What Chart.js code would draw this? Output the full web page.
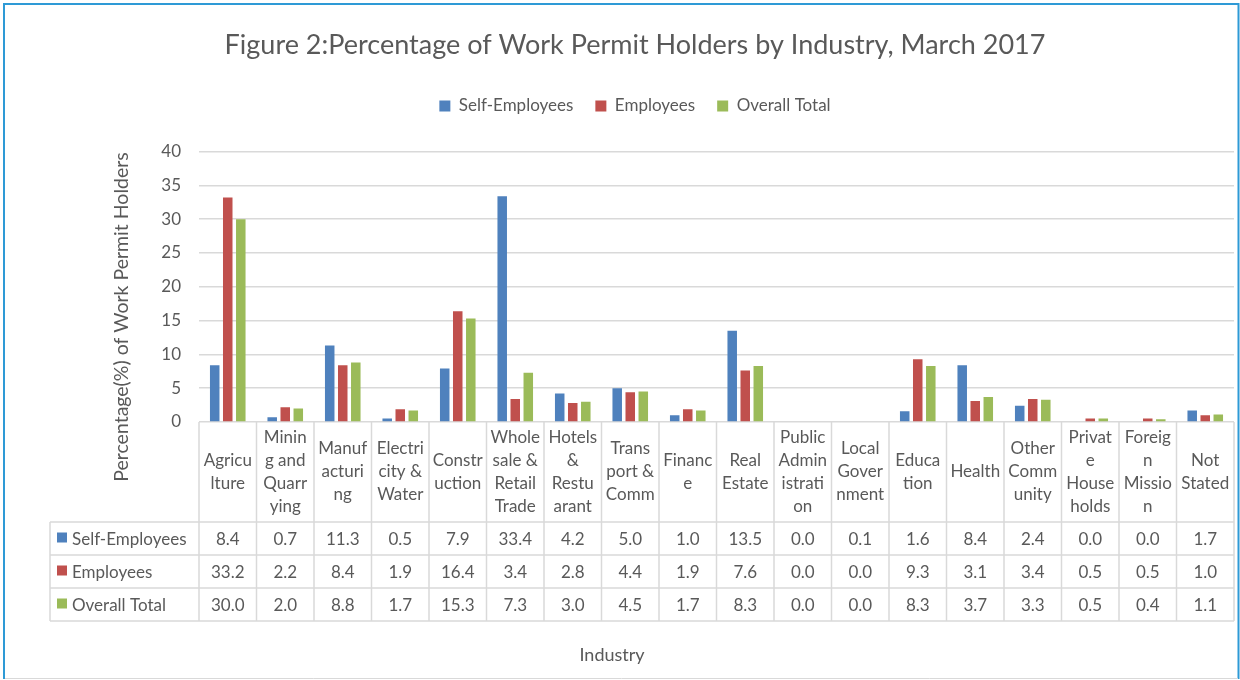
<!DOCTYPE html>
<html><head><meta charset="utf-8">
<script src="https://cdn.jsdelivr.net/npm/chart.js@4.4.1/dist/chart.umd.min.js"></script>
<style>html,body{margin:0;padding:0;background:#fff;} canvas{display:block;}</style>
</head><body>
<canvas id="c" width="1240" height="680"></canvas>
<script>
const chartTitle = "Figure 2:Percentage of Work Permit Holders by Industry, March 2017";
const yAxisTitle = "Percentage(%) of Work Permit Holders";
const xAxisTitle = "Industry";
const seriesNames = ["Self-Employees", "Employees", "Overall Total"];
const categories = [["Agricu","lture"],["Minin","g and","Quarr","ying"],["Manuf","acturi","ng"],["Electri","city &","Water"],["Constr","uction"],["Whole","sale &","Retail","Trade"],["Hotels","&","Restu","arant"],["Trans","port &","Comm"],["Financ","e"],["Real","Estate"],["Public","Admin","istrati","on"],["Local","Gover","nment"],["Educa","tion"],["Health"],["Other","Comm","unity"],["Privat","e","House","holds"],["Foreig","n","Missio","n"],["Not","Stated"]];
const selfEmployees = [8.4,0.7,11.3,0.5,7.9,33.4,4.2,5.0,1.0,13.5,0.0,0.1,1.6,8.4,2.4,0.0,0.0,1.7];
const employees = [33.2,2.2,8.4,1.9,16.4,3.4,2.8,4.4,1.9,7.6,0.0,0.0,9.3,3.1,3.4,0.5,0.5,1.0];
const overallTotal = [30.0,2.0,8.8,1.7,15.3,7.3,3.0,4.5,1.7,8.3,0.0,0.0,8.3,3.7,3.3,0.5,0.4,1.1];
const yMin = 0, yMax = 40, yStep = 5;

const colors = ["#4F81BD", "#C0504D", "#9BBB59"];
const FONT = "Lato, 'Open Sans', sans-serif";
const TEXT = "#595959";
const GRID = "#D9D9D9";

const seriesData = [selfEmployees, employees, overallTotal];

const tablePlugin = {
  id: 'tablePlugin',
  afterDraw(chart) {
    const ctx = chart.ctx, ca = chart.chartArea, x = chart.scales.x;
    const n = categories.length;
    const cw = x.getPixelForValue(1) - x.getPixelForValue(0);
    const headerTop = ca.bottom, headerBottom = ca.bottom + 100;
    const rowH = 33;
    const tableLeft = 50;
    const tableBottom = headerBottom + rowH * 3;
    ctx.save();
    ctx.strokeStyle = GRID;
    ctx.lineWidth = 1.5;
    ctx.beginPath();
    for (let r = 0; r <= 3; r++) {
      const yy = headerBottom + r * rowH;
      ctx.moveTo(tableLeft, yy); ctx.lineTo(ca.right, yy);
    }
    ctx.moveTo(tableLeft, headerBottom); ctx.lineTo(tableLeft, tableBottom);
    for (let i = 0; i <= n; i++) {
      const xx = x.getPixelForValue(0) - cw / 2 + i * cw;
      ctx.moveTo(xx, headerTop); ctx.lineTo(xx, tableBottom);
    }
    ctx.stroke();

    ctx.fillStyle = TEXT;
    ctx.font = "17px " + FONT;
    ctx.textAlign = "center";
    ctx.textBaseline = "middle";
    const lh = 23;
    const hc = (headerTop + headerBottom) / 2;
    categories.forEach((lines, i) => {
      const cx = x.getPixelForValue(i);
      const y0 = hc - (lines.length - 1) * lh / 2;
      lines.forEach((t, k) => ctx.fillText(t, cx, y0 + k * lh));
    });
    seriesData.forEach((arr, r) => {
      const cy = headerBottom + r * rowH + rowH / 2 + 1;
      arr.forEach((v, i) => {
        ctx.fillText(v.toFixed(1), x.getPixelForValue(i), cy);
      });
    });
    ctx.textAlign = "left";
    seriesNames.forEach((s, r) => {
      const cy = headerBottom + r * rowH + rowH / 2;
      ctx.fillStyle = colors[r];
      ctx.fillRect(57, cy - 6, 10, 10);
      ctx.fillStyle = TEXT;
      ctx.fillText(s, 72, cy + 1);
    });

    ctx.font = "18px " + FONT;
    ctx.textAlign = "center";
    ctx.fillText(xAxisTitle, 612, 655);
    ctx.save();
    ctx.font = "19.5px " + FONT;
    ctx.translate(122, 317);
    ctx.rotate(-Math.PI / 2);
    ctx.fillText(yAxisTitle, 0, 0);
    ctx.restore();

    ctx.strokeStyle = "#2E9AD6";
    ctx.lineWidth = 2;
    ctx.beginPath();
    ctx.moveTo(4, 679); ctx.lineTo(4, 4); ctx.lineTo(1238.5, 4); ctx.lineTo(1238.5, 679);
    ctx.stroke();
    ctx.strokeStyle = "#D9D9D9";
    ctx.lineWidth = 1;
    ctx.beginPath();
    ctx.moveTo(5, 678.5); ctx.lineTo(1238, 678.5);
    ctx.stroke();
    ctx.restore();
  }
};

new Chart(document.getElementById('c'), {
  type: 'bar',
  data: {
    labels: categories,
    datasets: seriesNames.map((name, i) => ({
      label: name,
      data: seriesData[i],
      backgroundColor: colors[i],
      borderWidth: 0,
      categoryPercentage: 0.68,
      barPercentage: 0.73
    }))
  },
  options: {
    responsive: false,
    animation: false,
    devicePixelRatio: 1,
    layout: { padding: { left: 36, right: 6, top: 0, bottom: 258 } },
    plugins: {
      title: {
        display: true,
        text: chartTitle,
        color: TEXT,
        font: { family: FONT, size: 27, weight: 'normal' },
        padding: { top: 29, bottom: 14 }
      },
      subtitle: {
        display: true,
        text: '',
        position: 'top',
        weight: 500,
        font: { family: FONT, size: 1 },
        padding: { top: 0, bottom: 26 }
      },
      legend: {
        display: true,
        position: 'top',
        labels: {
          color: TEXT,
          font: { family: FONT, size: 17 },
          boxWidth: 11,
          boxHeight: 11,
          padding: 22
        }
      },
      tooltip: { enabled: false }
    },
    scales: {
      x: {
        type: 'category',
        display: false,
        offset: true,
        grid: { display: false }
      },
      y: {
        min: yMin, max: yMax,
        ticks: { stepSize: yStep, color: TEXT, font: { family: FONT, size: 17 }, padding: 18 },
        grid: { color: GRID, lineWidth: 1.5, drawTicks: false },
        border: { display: false },
        afterFit(scale) { scale.width = 163; }
      }
    }
  },
  plugins: [tablePlugin]
});
</script>
</body></html>
